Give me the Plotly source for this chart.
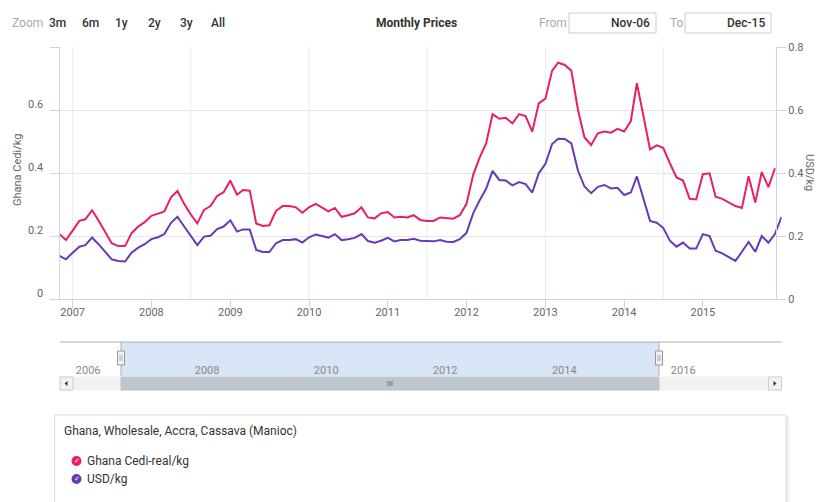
import pandas as pd
import plotly.graph_objects as go

# ---------------- data ----------------
start_month = "2006-11-01"
cedi_kg = [0.206, 0.187, 0.217, 0.248, 0.253, 0.282, 0.249, 0.210, 0.177, 0.168,
           0.168, 0.209, 0.230, 0.244, 0.264, 0.271, 0.278, 0.323, 0.343, 0.302,
           0.269, 0.240, 0.283, 0.295, 0.327, 0.339, 0.376, 0.331, 0.346, 0.344,
           0.240, 0.232, 0.234, 0.280, 0.295, 0.295, 0.291, 0.274, 0.291, 0.302,
           0.291, 0.278, 0.289, 0.261, 0.266, 0.272, 0.291, 0.259, 0.256, 0.272,
           0.276, 0.259, 0.261, 0.259, 0.266, 0.251, 0.248, 0.248, 0.259, 0.256,
           0.255, 0.266, 0.302, 0.394, 0.447, 0.494, 0.587, 0.572, 0.575, 0.558,
           0.587, 0.581, 0.531, 0.621, 0.636, 0.725, 0.750, 0.743, 0.725, 0.600,
           0.513, 0.489, 0.526, 0.532, 0.528, 0.540, 0.532, 0.565, 0.685, 0.579,
           0.475, 0.488, 0.480, 0.431, 0.386, 0.376, 0.318, 0.316, 0.396, 0.399,
           0.325, 0.318, 0.306, 0.295, 0.289, 0.390, 0.306, 0.403, 0.355, 0.415]
usd_kg = [0.137, 0.126, 0.147, 0.166, 0.171, 0.195, 0.174, 0.148, 0.126, 0.121,
          0.119, 0.147, 0.163, 0.174, 0.190, 0.196, 0.206, 0.242, 0.261, 0.230,
          0.200, 0.171, 0.198, 0.201, 0.222, 0.230, 0.250, 0.214, 0.221, 0.221,
          0.156, 0.149, 0.149, 0.177, 0.187, 0.187, 0.190, 0.179, 0.196, 0.205,
          0.200, 0.195, 0.206, 0.187, 0.190, 0.194, 0.206, 0.184, 0.179, 0.185,
          0.194, 0.183, 0.187, 0.187, 0.191, 0.185, 0.184, 0.183, 0.187, 0.182,
          0.181, 0.190, 0.210, 0.272, 0.312, 0.350, 0.407, 0.378, 0.376, 0.361,
          0.371, 0.365, 0.338, 0.399, 0.429, 0.492, 0.509, 0.508, 0.494, 0.407,
          0.357, 0.336, 0.356, 0.362, 0.351, 0.353, 0.330, 0.338, 0.389, 0.320,
          0.248, 0.242, 0.226, 0.185, 0.166, 0.179, 0.160, 0.160, 0.206, 0.200,
          0.153, 0.145, 0.134, 0.121, 0.150, 0.181, 0.150, 0.200, 0.179, 0.206,
          0.261]
months_cedi = pd.date_range(start_month, periods=len(cedi_kg), freq="MS")
months_usd = pd.date_range(start_month, periods=len(usd_kg), freq="MS")

y_ticks = [0, 0.2, 0.4, 0.6, 0.8]
left_tick_text = ["0", "0.2", "0.4", "0.6"]
right_tick_text = ["0", "0.2", "0.4", "0.6", "0.8"]
x_years = ["2007", "2008", "2009", "2010", "2011", "2012", "2013", "2014", "2015"]
grid_dates = ["2007-01-01", "2008-07-01", "2010-01-01", "2011-07-01", "2013-01-01", "2014-07-01"]
nav_years = ["2006", "2008", "2010", "2012", "2014", "2016"]
zoom_buttons = ["3m", "6m", "1y", "2y", "3y", "All"]

W, H = 817, 502
def px(x):
    return x / W
def py(y):
    return 1 - y / H

PINK = "#e91e63"
PURPLE = "#673ab7"
AXIS = "#ccd6eb"
GRID = "#e6e6e6"
FONT = "Roboto"

fig = go.Figure()
fig.add_trace(go.Scatter(x=months_cedi, y=cedi_kg, mode="lines", name="Ghana Cedi-real/kg",
                         line=dict(color=PINK, width=2), yaxis="y", xaxis="x"))
fig.add_trace(go.Scatter(x=months_usd, y=usd_kg, mode="lines", name="USD/kg",
                         line=dict(color=PURPLE, width=2), yaxis="y2", xaxis="x"))

x_dom = [px(59.5), px(781.6)]
y_dom = [py(299), py(47)]

shapes = []
annotations = []

# vertical grid lines
for d in grid_dates:
    shapes.append(dict(type="line", xref="x", yref="paper", x0=d, x1=d,
                       y0=y_dom[0], y1=y_dom[1], line=dict(color="#ebebeb", width=1), layer="below"))

# left axis tick labels (drawn slightly above their grid lines, as in the reference)
for v, t in zip(y_ticks, left_tick_text):
    annotations.append(dict(text=t, x=px(45), y=v, xref="paper", yref="y",
                            xanchor="right", yanchor="middle", yshift=6, showarrow=False,
                            font=dict(family=FONT, size=11, color="#666666")))

# ---------- top bar ----------
annotations.append(dict(text="Zoom", x=px(10), y=py(23), xref="paper", yref="paper",
                        xanchor="left", yanchor="middle", showarrow=False,
                        font=dict(family=FONT, size=12, color="#aaaaaa")))
btn_x = [57, 90, 121.5, 154, 186.5, 218]
for b, bx in zip(zoom_buttons, btn_x):
    annotations.append(dict(text=b, x=px(bx), y=py(23), xref="paper", yref="paper",
                            xanchor="center", yanchor="middle", showarrow=False,
                            font=dict(family=FONT, size=12, color="#333333", weight=500)))
annotations.append(dict(text="Monthly Prices", x=px(417), y=py(23), xref="paper", yref="paper",
                        xanchor="center", yanchor="middle", showarrow=False,
                        font=dict(family=FONT, size=12, color="#333333", weight="bold")))
annotations.append(dict(text="From", x=px(537), y=py(23), xref="paper", yref="paper",
                        xanchor="left", yanchor="middle", showarrow=False,
                        font=dict(family=FONT, size=12, color="#aaaaaa")))
annotations.append(dict(text="To", x=px(668), y=py(23), xref="paper", yref="paper",
                        xanchor="left", yanchor="middle", showarrow=False,
                        font=dict(family=FONT, size=12, color="#aaaaaa")))
for (x0, x1, t) in [(569, 656, "Nov-06"), (685, 771, "Dec-15")]:
    shapes.append(dict(type="rect", xref="paper", yref="paper", x0=px(x0), x1=px(x1),
                       y0=py(33), y1=py(13), line=dict(color="#cccccc", width=1),
                       fillcolor="white"))
    annotations.append(dict(text=t, x=px(x1 - 4), y=py(23), xref="paper", yref="paper",
                            xanchor="right", yanchor="middle", showarrow=False,
                            font=dict(family=FONT, size=12, color="#333333", weight=500)))

# axis titles
annotations.append(dict(text="Ghana Cedi/kg", x=px(18), y=py(170), xref="paper", yref="paper",
                        textangle=-90, showarrow=False, xanchor="center", yanchor="middle",
                        font=dict(family=FONT, size=11, color="#666666")))
annotations.append(dict(text="USD/kg", x=px(809), y=py(172), xref="paper", yref="paper",
                        textangle=90, showarrow=False, xanchor="center", yanchor="middle",
                        font=dict(family=FONT, size=11, color="#666666")))

# ---------- navigator ----------
nav_top, nav_bot = 342, 376
sel_l, sel_r = 121, 659
shapes.append(dict(type="rect", xref="paper", yref="paper", x0=px(sel_l), x1=px(sel_r),
                   y0=py(nav_bot), y1=py(nav_top), line=dict(width=0),
                   fillcolor="#d7e5f6", layer="below"))
shapes.append(dict(type="line", xref="paper", yref="paper", x0=px(60), x1=px(781.5),
                   y0=py(nav_top), y1=py(nav_top), line=dict(color="#b0b0b0", width=1)))
shapes.append(dict(type="line", xref="paper", yref="paper", x0=px(sel_l), x1=px(sel_l),
                   y0=py(nav_bot), y1=py(nav_top), line=dict(color="#b0b0b0", width=1)))
shapes.append(dict(type="line", xref="paper", yref="paper", x0=px(sel_r), x1=px(sel_r),
                   y0=py(nav_bot), y1=py(nav_top), line=dict(color="#b0b0b0", width=1)))
# scrollbar
shapes.append(dict(type="rect", xref="paper", yref="paper", x0=px(60), x1=px(781.5),
                   y0=py(390), y1=py(377), line=dict(color="#f2f2f2", width=1),
                   fillcolor="#f2f2f2"))
shapes.append(dict(type="rect", xref="paper", yref="paper", x0=px(sel_l), x1=px(sel_r),
                   y0=py(390), y1=py(377), line=dict(color="#bcc3cc", width=1),
                   fillcolor="#bfc6cf"))
for x0 in (60, 768.5):
    shapes.append(dict(type="rect", xref="paper", yref="paper", x0=px(x0), x1=px(x0 + 13),
                       y0=py(390), y1=py(377), line=dict(color="#cccccc", width=1),
                       fillcolor="#f2f2f2"))
shapes.append(dict(type="path", xref="paper", yref="paper",
                   path=f"M {px(64.5)},{py(383.5)} L {px(67.5)},{py(381)} L {px(67.5)},{py(386)} Z",
                   fillcolor="#333333", line=dict(width=0)))
shapes.append(dict(type="path", xref="paper", yref="paper",
                   path=f"M {px(776.5)},{py(383.5)} L {px(773.5)},{py(381)} L {px(773.5)},{py(386)} Z",
                   fillcolor="#333333", line=dict(width=0)))
grip_c = (sel_l + sel_r) / 2
for dx in (-2, 0, 2):
    shapes.append(dict(type="line", xref="paper", yref="paper", x0=px(grip_c + dx), x1=px(grip_c + dx),
                       y0=py(386), y1=py(381), line=dict(color="#666666", width=0.8)))
# handles
for hx in (sel_l, sel_r):
    shapes.append(dict(type="rect", xref="paper", yref="paper", x0=px(hx - 3.5), x1=px(hx + 3.5),
                       y0=py(365), y1=py(351), line=dict(color="#999999", width=1),
                       fillcolor="#f2f2f2"))
    for dx in (-1, 1):
        shapes.append(dict(type="line", xref="paper", yref="paper", x0=px(hx + dx), x1=px(hx + dx),
                           y0=py(361), y1=py(355), line=dict(color="#999999", width=0.8)))

# ---------- legend box ----------
shapes.append(dict(type="rect", xref="paper", yref="paper", x0=px(56), x1=px(788),
                   y0=py(515), y1=py(417), line=dict(color="#f0f0f0", width=2),
                   fillcolor="#f4f4f4"))
shapes.append(dict(type="rect", xref="paper", yref="paper", x0=px(54.5), x1=px(786),
                   y0=py(515), y1=py(415), line=dict(color="#dddddd", width=1),
                   fillcolor="white"))
annotations.append(dict(text="Ghana, Wholesale, Accra, Cassava (Manioc)", x=px(62), y=py(431),
                        xref="paper", yref="paper", xanchor="left", yanchor="middle",
                        showarrow=False, font=dict(family=FONT, size=12, color="#333333")))
for (name, col, yy) in [("Ghana Cedi-real/kg", PINK, 461), ("USD/kg", PURPLE, 479)]:
    shapes.append(dict(type="circle", xref="paper", yref="paper", x0=px(71.5), x1=px(81.5),
                       y0=py(yy + 5), y1=py(yy - 5), line=dict(width=0), fillcolor=col))
    annotations.append(dict(text="✓", x=px(76.5), y=py(yy), xref="paper", yref="paper",
                            xanchor="center", yanchor="middle", showarrow=False,
                            font=dict(family="DejaVu Sans", size=7, color="white")))
    annotations.append(dict(text=name, x=px(85), y=py(yy), xref="paper", yref="paper",
                            xanchor="left", yanchor="middle", showarrow=False,
                            font=dict(family=FONT, size=12, color="#333333")))

tickfont = dict(family=FONT, size=11, color="#666666")

fig.update_layout(
    width=W, height=H,
    margin=dict(l=0, r=0, t=0, b=0),
    paper_bgcolor="white", plot_bgcolor="rgba(0,0,0,0)",
    showlegend=False,
    shapes=shapes, annotations=annotations,
    xaxis=dict(domain=x_dom, range=["2006-11-01", "2016-01-01"], type="date",
               showgrid=False, showline=True, linecolor=AXIS, linewidth=1,
               ticks="outside", ticklen=8, tickcolor=AXIS,
               tickvals=[f"{y}-01-01" for y in x_years], ticktext=x_years,
               ticklabelstandoff=-5,
               tickfont=tickfont, zeroline=False, automargin=False, fixedrange=True),
    yaxis=dict(domain=y_dom, range=[0, 0.8], tickvals=y_ticks, showticklabels=False,
               showgrid=True, gridcolor=GRID, showline=True, linecolor=AXIS,
               ticks="outside", ticklen=9, tickcolor=AXIS,
               zeroline=False, automargin=False, fixedrange=True),
    yaxis2=dict(range=[0, 0.8], tickvals=y_ticks, ticktext=right_tick_text,
                overlaying="y", side="right", anchor="free", position=px(776),
                showgrid=False, showline=True, linecolor=AXIS,
                ticks="outside", ticklen=9, tickcolor=AXIS,
                tickfont=tickfont, zeroline=False, automargin=False, fixedrange=True),
    xaxis2=dict(domain=x_dom, type="date", range=["2005-07-09", "2017-08-27"],
                anchor="free", position=py(362),
                tickvals=[f"{y}-01-01" for y in nav_years], ticktext=nav_years,
                showgrid=False, showline=False, ticks="", zeroline=False,
                tickfont=dict(family=FONT, size=11, color="#888888"),
                automargin=False, fixedrange=True),
    yaxis3=dict(domain=[py(nav_bot), py(nav_top)], range=[0, 1], visible=False,
                anchor="x2", fixedrange=True),
)
# invisible trace to activate navigator axes
fig.add_trace(go.Scatter(x=[], y=[], xaxis="x2", yaxis="y3", showlegend=False, hoverinfo="skip"))

fig.write_html("out.html", config={"displayModeBar": False},
               post_script="document.body.style.margin='0';")
